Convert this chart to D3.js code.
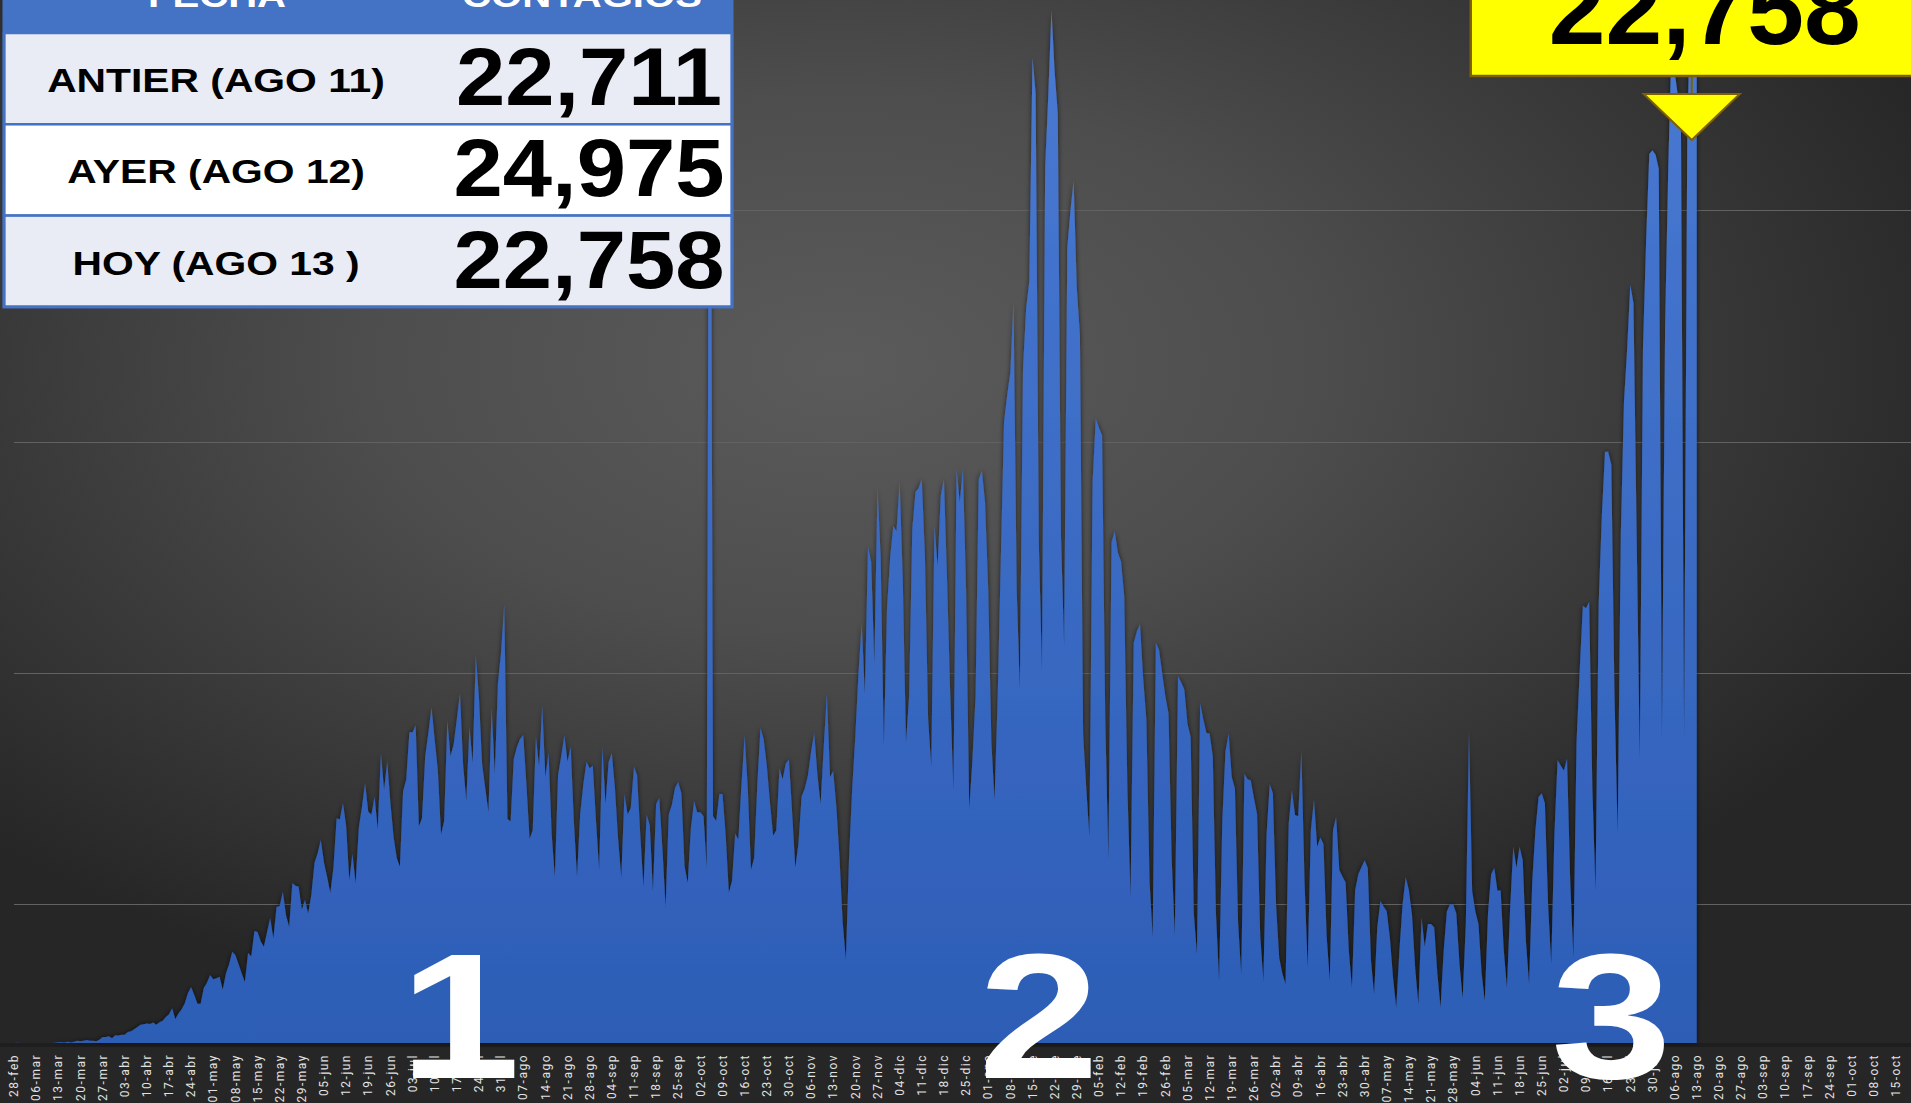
<!DOCTYPE html>
<html>
<head>
<meta charset="utf-8">
<script src="https://cdn.jsdelivr.net/npm/d3@7"></script>
<style>
  html, body { margin: 0; padding: 0; background: #2a2a2a; overflow: hidden; }
  svg { display: block; }
</style>
</head>
<body>
<div id="chart"></div>
<script>
var startDate = "2020-02-28";
var axisEndDate = "2021-10-15";
var monthNames = ["ene", "feb", "mar", "abr", "may", "jun", "jul", "ago", "sep", "oct", "nov", "dic"];
var gridValues = [3000, 8000, 13000, 18000, 23000];

// contagios diarios, una fila por semana (vie .. jue)
var casesFebMay2020 = [
  1, 3, 0, 1, 0, 0, 1,
  2, 1, 0, 2, 0, 2, 4,
  14, 15, 12, 29, 11, 26, 46,
  39, 48, 65, 48, 51, 38, 70,
  132, 131, 145, 100, 168, 163, 178,
  180, 240, 253, 296, 348, 396, 403,
  420, 410, 442, 396, 450, 480, 560,
  620, 750, 520, 640, 730, 860, 1080,
  1210, 1040, 850, 850, 1190, 1300, 1470,
  1380, 1400, 1430, 1150, 1500, 1700, 1970,
  1900, 1700, 1500, 1320, 1950, 1870, 2420,
  2400, 2200, 2080, 2400, 2700, 2260, 2940,
  2960, 3270, 2760, 2510, 3460, 3400, 3380
];
var casesMayAug2020 = [
  2880, 3090, 2800, 3200, 3890, 4100, 4390,
  3900, 3590, 3240, 3800, 4860, 4830, 5190,
  4700, 3520, 4090, 3450, 4650, 5100, 5620,
  5000, 4940, 5330, 4610, 6270, 5470, 6090,
  5200, 4460, 4000, 3810, 5440, 5690, 6720,
  6720, 6870, 4680, 4860, 6200, 6700, 7260,
  6560, 5900, 4500, 4800, 6980, 6200, 6450,
  7000, 7560, 6000, 5240, 6840, 6050, 8390,
  7460, 6030, 5500, 4990, 7250, 5820, 7780,
  8460, 9490, 4840, 4790, 6140, 6400, 6570,
  6660, 5600, 4410, 4600, 6620, 5980, 7290,
  5750, 6270, 4500, 3590, 5790, 6200, 6650,
  6080, 6410, 4800, 3590, 4950, 5600, 6080
];
var casesAugNov2020 = [
  5940, 6000, 4800, 3740, 6410, 5160, 6080,
  6270, 5500, 4400, 3570, 5380, 4940, 5080,
  5970, 5790, 4500, 3370, 4940, 4710, 3270,
  5160, 5300, 4200, 2940, 4940, 5150, 5520,
  5640, 5400, 3820, 3460, 4640, 5230, 4990,
  4990, 4900, 3770, 28115, 4900, 4800, 5380,
  5380, 4500, 3250, 3500, 4530, 4400, 5600,
  6650, 5500, 3740, 4000, 5600, 6810, 6570,
  6000, 5200, 4480, 4600, 5940, 5700, 6040,
  6130, 5000, 3790, 4300, 5330, 5500, 5780,
  6300, 6700, 5800, 5160, 6400, 7560, 5750,
  5880, 5100, 4000, 2600, 1800, 4000, 5500
];
var casesNovFeb2021 = [
  6650, 8000, 9080, 7550, 10720, 10400, 8200,
  12010, 10500, 6400, 9380, 10500, 11180, 11060,
  12130, 10000, 6480, 7500, 11110, 11910, 12000,
  12190, 10500, 7000, 5970, 11180, 10310, 11830,
  12190, 10000, 7500, 5470, 12410, 11690, 12410,
  9810, 5040, 6100, 7500, 12190, 12370, 11690,
  9810, 6500, 5250, 7500, 10500, 13420, 14010,
  14500, 16030, 9810, 7630, 14580, 15890, 16470,
  21310, 20520, 10800, 8060, 18930, 20500, 22330,
  21000, 20090, 10960, 8580, 17190, 18000, 18640,
  16320, 15300, 6700, 5500, 4450, 12130, 13500,
  13300, 13140, 7000, 3950, 10830, 11060, 10600,
  10410, 9660, 5500, 3150, 8650, 8900, 9050
];
var casesFebMay2021 = [
  7880, 7000, 3500, 2290, 8650, 8500, 8000,
  7500, 7130, 4000, 2320, 7930, 7800, 7640,
  6900, 6620, 2800, 1920, 7350, 7000, 6700,
  6690, 6200, 2800, 1340, 4800, 6300, 6690,
  5750, 5500, 2600, 1470, 5820, 5700, 5680,
  5300, 4950, 2300, 1340, 4500, 5600, 5400,
  3000, 1840, 1500, 1270, 4740, 5470, 4930,
  4900, 6330, 3500, 1620, 4600, 5260, 4240,
  4440, 4300, 2300, 1340, 4600, 4890, 3740,
  3600, 3470, 2000, 1190, 3300, 3650, 3800,
  3950, 3790, 1800, 1050, 2500, 3070, 2950,
  2850, 2270, 1400, 760, 2000, 3000, 3590,
  3300, 2760, 1600, 830, 2720, 2080, 2570
];
var casesMayAug2021 = [
  2570, 2500, 1500, 760, 2000, 2850, 3000,
  3000, 2800, 1700, 960, 2600, 6770, 3290,
  2850, 2570, 1500, 900, 2800, 3650, 3790,
  3290, 3300, 2000, 1190, 2900, 4240, 3790,
  4240, 3950, 2200, 1270, 3500, 4600, 5320,
  5400, 5180, 3000, 1700, 4500, 6120, 6000,
  5890, 6150, 3500, 1840, 6500, 8060, 9450,
  9400, 9540, 5500, 3290, 9500, 11400, 12780,
  12780, 12500, 7500, 4520, 11000, 13860, 15000,
  16390, 15990, 11000, 6120, 15000, 17340, 19220,
  19300, 19200, 18900, 6550, 15500, 18930, 21500,
  21000, 20500, 20000, 6620, 19500, 22711, 24975,
  22758
];

var headerLabels = ["FECHA", "CONTAGIOS"];
var tableLabels = ["ANTIER (AGO 11)", "AYER (AGO 12)", "HOY (AGO 13 )"];
var tableValues = [22711, 24975, 22758];
var waveLabels = ["1", "2", "3"];
var waveDates = ["2020-07-18", "2021-01-17", "2021-07-17"];

var width = 1911,
  height = 1103,
  baseY = 1043;

var parse = d3.utcParse("%Y-%m-%d");
var start = parse(startDate),
  axisEnd = parse(axisEndDate);

var cases = [].concat(casesFebMay2020, casesMayAug2020, casesAugNov2020,
  casesNovFeb2021, casesFebMay2021, casesMayAug2021);
var data = cases.map(function(v, i) {
  return { date: d3.utcDay.offset(start, i), value: v };
});
var last = data[data.length - 1];

var x = d3.scaleUtc()
  .domain([start, axisEnd])
  .range([14, 1896]);

var y = d3.scaleLinear()
  .domain([0, 25000])
  .range([baseY, baseY - 25000 * 0.04626]);

var svg = d3.select("#chart")
  .append("svg")
  .attr("width", width)
  .attr("height", height);

var defs = svg.append("defs");

var bg = defs.append("radialGradient")
  .attr("id", "bg")
  .attr("cx", "0.44").attr("cy", "0.33").attr("r", "0.62");
bg.append("stop").attr("offset", "0").attr("stop-color", "#5b5b5b");
bg.append("stop").attr("offset", "0.4").attr("stop-color", "#4d4d4d");
bg.append("stop").attr("offset", "1").attr("stop-color", "#262626");

var fill = defs.append("linearGradient")
  .attr("id", "areaFill")
  .attr("gradientUnits", "userSpaceOnUse")
  .attr("x1", 0).attr("y1", 0).attr("x2", 0).attr("y2", baseY);
fill.append("stop").attr("offset", "0").attr("stop-color", "#4a7ad3");
fill.append("stop").attr("offset", "1").attr("stop-color", "#2d5db6");

var shadow = defs.append("filter")
  .attr("id", "shadow")
  .attr("x", "-5%").attr("y", "-5%").attr("width", "110%").attr("height", "110%");
shadow.append("feDropShadow")
  .attr("dx", 0).attr("dy", 0)
  .attr("stdDeviation", 2.5)
  .attr("flood-color", "#000")
  .attr("flood-opacity", 0.65);

svg.append("rect")
  .attr("width", width)
  .attr("height", height)
  .attr("fill", "url(#bg)");

// gridlines
svg.append("g")
  .selectAll("line")
  .data(gridValues)
  .enter()
  .append("line")
  .attr("x1", 14)
  .attr("x2", width)
  .attr("y1", function(d) { return Math.round(y(d)) + 0.5; })
  .attr("y2", function(d) { return Math.round(y(d)) + 0.5; })
  .attr("stroke", "#626262")
  .attr("stroke-width", 1);

// baseline band
svg.append("rect")
  .attr("x", 0)
  .attr("y", baseY)
  .attr("width", width)
  .attr("height", 4)
  .attr("fill", "#1e1e1e");

var area = d3.area()
  .x(function(d) { return x(d.date); })
  .y0(baseY)
  .y1(function(d) { return y(d.value); });

svg.append("path")
  .datum(data)
  .attr("d", area)
  .attr("fill", "url(#areaFill)")
  .attr("filter", "url(#shadow)");

// x axis labels, one per week
var ticks = d3.utcDay.range(start, d3.utcDay.offset(axisEnd, 1), 7);
var fmtDay = d3.utcFormat("%d");
svg.append("g")
  .selectAll("text")
  .data(ticks)
  .enter()
  .append("text")
  .attr("transform", function(d) { return "translate(" + x(d) + "," + (baseY + 11) + ") rotate(-90)"; })
  .attr("text-anchor", "end")
  .attr("dy", "0.35em")
  .style("font-family", "Roboto, 'Liberation Sans', sans-serif")
  .style("font-size", "12px")
  .style("letter-spacing", "1.5px")
  .style("fill", "#e2e2e2")
  .text(function(d) { return fmtDay(d) + "-" + monthNames[d.getUTCMonth()]; });

// big wave numbers
svg.append("g")
  .selectAll("text")
  .data(waveLabels)
  .enter()
  .append("text")
  .attr("transform", function(d, i) { return "translate(" + x(parse(waveDates[i])) + ",1078) scale(1.22,1)"; })
  .attr("text-anchor", "middle")
  .style("font-family", "'Liberation Sans', Arial, sans-serif")
  .style("font-weight", "bold")
  .style("font-size", "178px")
  .style("fill", "#ffffff")
  .text(function(d) { return d; });

// table
var fmt = d3.format(",");
var table = svg.append("g").attr("class", "table");
var tX = 4, tW = 728, headH = 33, rowH = 91.3;

table.append("rect")
  .attr("x", tX).attr("y", -10)
  .attr("width", tW).attr("height", headH + 10)
  .attr("fill", "#4472c4");

table.selectAll(".head")
  .data(headerLabels)
  .enter()
  .append("text")
  .attr("class", "head")
  .attr("transform", function(d, i) { return "translate(" + (i == 0 ? 217 : 582) + ",7) scale(1.18,1)"; })
  .attr("text-anchor", "middle")
  .style("font-family", "'Liberation Sans', Arial, sans-serif")
  .style("font-weight", "bold")
  .style("font-size", "34px")
  .style("fill", "#ffffff")
  .text(function(d) { return d; });

var rows = table.selectAll(".row")
  .data(tableLabels)
  .enter()
  .append("g")
  .attr("class", "row")
  .attr("transform", function(d, i) { return "translate(0," + (headH + i * rowH) + ")"; });

rows.append("rect")
  .attr("x", tX).attr("y", 0)
  .attr("width", tW).attr("height", rowH)
  .attr("fill", function(d, i) { return i == 1 ? "#ffffff" : "#e9ebf5"; })
  .attr("stroke", "#4472c4")
  .attr("stroke-width", 2.5);

rows.append("text")
  .attr("transform", "translate(216,59) scale(1.2,1)")
  .attr("text-anchor", "middle")
  .style("font-family", "'Liberation Sans', Arial, sans-serif")
  .style("font-weight", "bold")
  .style("font-size", "34px")
  .style("fill", "#000")
  .text(function(d) { return d; });

rows.append("text")
  .attr("transform", "translate(589,72) scale(1.08,1)")
  .attr("text-anchor", "middle")
  .style("font-family", "'Liberation Sans', Arial, sans-serif")
  .style("font-weight", "bold")
  .style("font-size", "82px")
  .style("fill", "#000")
  .text(function(d, i) { return fmt(tableValues[i]); });

table.append("rect")
  .attr("x", tX).attr("y", -10)
  .attr("width", tW).attr("height", headH + 3 * rowH + 10)
  .attr("fill", "none")
  .attr("stroke", "#4472c4")
  .attr("stroke-width", 3);

// callout for the last value
var px = x(last.date) - 5;
var callout = svg.append("g").attr("class", "callout");

callout.append("rect")
  .attr("x", px - 221).attr("y", -10)
  .attr("width", 470).attr("height", 86)
  .attr("fill", "#ffff00")
  .attr("stroke", "#7f6000")
  .attr("stroke-width", 2.5);

callout.append("text")
  .attr("x", px + 13)
  .attr("y", 44)
  .attr("text-anchor", "middle")
  .style("font-family", "'Liberation Sans', Arial, sans-serif")
  .style("font-weight", "bold")
  .style("font-size", "102px")
  .style("fill", "#000")
  .text(fmt(last.value));

callout.append("line")
  .attr("x1", px).attr("x2", px)
  .attr("y1", 76).attr("y2", 94)
  .attr("stroke", "#7f6000")
  .attr("stroke-width", 2);

callout.append("path")
  .attr("d", "M" + (px - 48) + ",94 L" + (px + 48) + ",94 L" + px + ",140 Z")
  .attr("fill", "#ffff00")
  .attr("stroke", "#7f6000")
  .attr("stroke-width", 2);
</script>
</body>
</html>
